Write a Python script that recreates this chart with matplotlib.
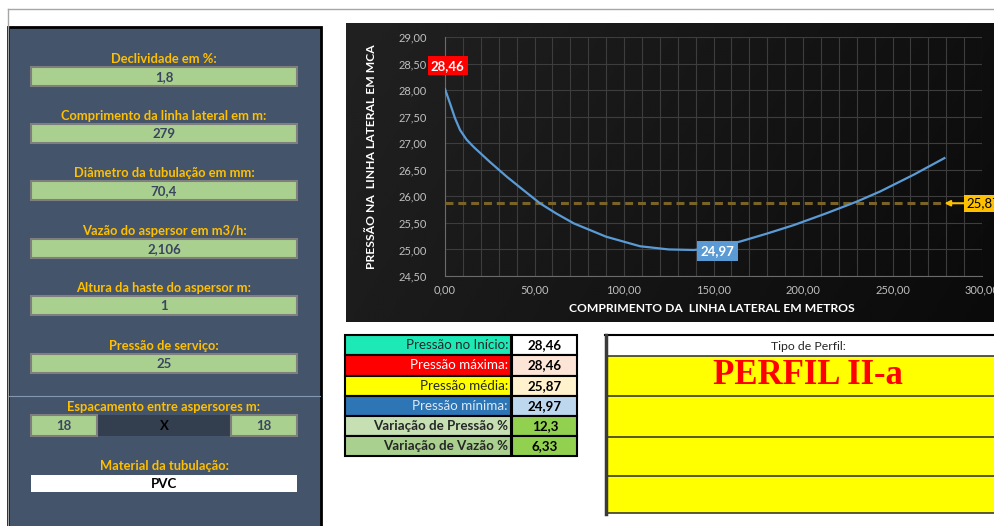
import numpy as np
import matplotlib.pyplot as plt
from matplotlib.patches import Rectangle
from matplotlib.ticker import FuncFormatter, MultipleLocator

plt.rcParams['font.family'] = ['Lato', 'DejaVu Sans']

# curva de pressao ao longo da linha lateral
comprimento = [0, 2.8, 5.6, 8.4, 12, 16, 25, 34.5, 43.7, 53, 62, 72, 90, 109, 125, 139,
               150, 165, 180, 195, 213, 230, 243, 262, 279]
pressao = [28.02, 27.75, 27.47, 27.25, 27.07, 26.93, 26.65, 26.37, 26.12, 25.87, 25.68,
           25.49, 25.24, 25.06, 25.00, 24.99, 25.03, 25.15, 25.30, 25.46, 25.68, 25.90,
           26.09, 26.41, 26.72]
p_max = 28.46
p_med = 25.87
p_min = 24.97

# dados de entrada
entrada_rotulos = ['Declividade em %:', 'Comprimento da linha lateral em m:',
                   'Diâmetro da tubulação em mm:', 'Vazão do aspersor em m3/h:',
                   'Altura da haste do aspersor m:', 'Pressão de serviço:']
entrada_valores = ['1,8', '279', '70,4', '2,106', '1', '25']
espacamento = ['18', '18']
material = 'PVC'

# resumo
resumo_rotulos = ['Pressão no Início:', 'Pressão máxima:', 'Pressão média:',
                  'Pressão mínima:', 'Variação de Pressão %', 'Variação de Vazão %']
resumo_valores = ['28,46', '28,46', '25,87', '24,97', '12,3', '6,33']
tipo_perfil = 'PERFIL II-a'


def virgula(v, nd=2):
    return f'{v:.{nd}f}'.replace('.', ',')


W, H = 995, 526
fig = plt.figure(figsize=(W / 100, H / 100), dpi=100)
bg = fig.add_axes([0, 0, 1, 1])
bg.set_xlim(0, W)
bg.set_ylim(H, 0)
bg.axis('off')


def rect(x0, y0, x1, y1, fc, ec='none', lw=0, z=1):
    bg.add_patch(Rectangle((x0, y0), x1 - x0, y1 - y0, facecolor=fc,
                           edgecolor=ec, linewidth=lw, zorder=z))


# moldura
bg.plot([8, W], [9, 9], color='#a6a6a6', lw=1)
bg.plot([8, 8], [9, H], color='#a6a6a6', lw=1)
rect(8, 27, 321, H + 3, '#44546a', 'black', 2)

# painel de entrada
lab_y = [59, 116, 173, 231, 288, 346]
for rot, val, ly in zip(entrada_rotulos, entrada_valores, lab_y):
    bg.text(164, ly, rot, ha='center', va='center', color='#ffc000',
            fontsize=9.3, fontweight='bold', zorder=3)
    rect(31, ly + 8, 297, ly + 27, '#a9d08e', '#7f7f7f', 1.5, z=2)
    bg.text(164, ly + 18, val, ha='center', va='center', color='#3b4461',
            fontsize=9.5, fontweight='bold', zorder=3)

bg.plot([9, 320], [396, 396], color='#8497b0', lw=0.8, zorder=2)
bg.text(164, 407, 'Espacamento entre aspersores m:', ha='center', va='center',
        color='#ffc000', fontsize=9.3, fontweight='bold', zorder=3)
rect(97, 415, 231, 436, '#333f4f', z=2)
rect(31, 415, 97, 436, '#a9d08e', '#7f7f7f', 1.5, z=2)
rect(231, 415, 297, 436, '#a9d08e', '#7f7f7f', 1.5, z=2)
bg.text(64, 426, espacamento[0], ha='center', va='center', color='#3b4461',
        fontsize=9.5, fontweight='bold', zorder=3)
bg.text(264, 426, espacamento[1], ha='center', va='center', color='#3b4461',
        fontsize=9.5, fontweight='bold', zorder=3)
bg.text(164, 426, 'X', ha='center', va='center', color='black',
        fontsize=9.5, fontweight='bold', zorder=3)
bg.text(164, 466, 'Material da tubulação:', ha='center', va='center',
        color='#ffc000', fontsize=9.3, fontweight='bold', zorder=3)
rect(31, 475, 297, 492, 'white', z=2)
bg.text(164, 484, material, ha='center', va='center', color='black',
        fontsize=9.5, fontweight='bold', zorder=3)

# fundo do grafico
gx = np.linspace(0, 1, 200)
gy = np.linspace(0, 1, 100)
GX, GY = np.meshgrid(gx, gy)
grad = 0.13 - 0.07 * GX - 0.02 * GY
bg.imshow(grad, cmap='gray', vmin=0, vmax=1, extent=[346, W, 322, 23],
          aspect='auto', zorder=1)

# grafico
ax = fig.add_axes([445 / W, 1 - 276 / H, 537 / W, 239 / H])
ax.set_facecolor('none')
ax.plot(comprimento, pressao, color='#5b9bd5', lw=1.6, zorder=4)
ax.plot([comprimento[0], comprimento[-1]], [p_med, p_med], color='#7a6326',
        lw=2.2, dashes=(2.6, 1.6), zorder=3)
ax.set_xlim(0, 300)
ax.set_ylim(24.5, 29)
ax.xaxis.set_major_locator(MultipleLocator(50))
ax.xaxis.set_minor_locator(MultipleLocator(10))
ax.yaxis.set_major_locator(MultipleLocator(0.5))
ax.grid(which='both', color='#3d3d3d', lw=0.8, zorder=0)
ax.set_axisbelow(True)
fmt = FuncFormatter(lambda v, p: virgula(v))
ax.xaxis.set_major_formatter(fmt)
ax.yaxis.set_major_formatter(fmt)
ax.tick_params(which='both', length=0, colors='#bfbfbf', labelsize=8)
ax.tick_params(axis='y', pad=13)
ax.tick_params(axis='x', pad=6)
for s in ['top', 'right']:
    ax.spines[s].set_visible(False)
for s in ['left', 'bottom']:
    ax.spines[s].set_color('#6b6b6b')

ax.annotate(virgula(p_max), xy=(comprimento[0], p_max), xytext=(2, 0),
            textcoords='offset points', ha='center', va='center', color='white',
            fontsize=9.5, fontweight='bold', annotation_clip=False, zorder=6,
            bbox=dict(boxstyle='square,pad=0.25', fc='#ff0000', ec='none'))
i_min = int(np.argmin(pressao))
ax.annotate(virgula(p_min), xy=(comprimento[i_min], p_min), xytext=(17, 0),
            textcoords='offset points', ha='center', va='center', color='white',
            fontsize=9.5, fontweight='bold', annotation_clip=False, zorder=6,
            bbox=dict(boxstyle='square,pad=0.3', fc='#5b9bd5', ec='none'))
ax.annotate(virgula(p_med), xy=(comprimento[-1], p_med), xytext=(16, 0),
            textcoords='offset points', ha='left', va='center', color='black',
            fontsize=9.5, annotation_clip=False, zorder=6,
            bbox=dict(boxstyle='square,pad=0.2', fc='#ffc000', ec='none'),
            arrowprops=dict(arrowstyle='-|>', color='#ffc000', lw=1.5,
                            shrinkA=0, shrinkB=0, mutation_scale=8))

fig.text(372 / W, 1 - 157 / H, 'PRESSÃO NA  LINHA LATERAL EM MCA', rotation=90,
         ha='center', va='center', color='white', fontsize=8.7, fontweight='bold')
fig.text(712 / W, 1 - 309 / H, 'COMPRIMENTO DA  LINHA LATERAL EM METROS',
         ha='center', va='center', color='white', fontsize=8.7, fontweight='bold')

# tabela resumo
cores_rot = ['#1de9b6', '#ff0000', '#ffff00', '#2e75b6', '#c6e0b4', '#a9d08e']
cores_txt = ['#262626', 'white', '#262626', '#ddebf7', '#262626', '#262626']
pesos = ['normal'] * 4 + ['bold'] * 2
cores_val = ['white', '#fce4d6', '#fff2cc', '#bdd7ee', '#92d050', '#92d050']
row_y = [335, 355, 375.5, 396, 416, 436, 456]
for k in range(6):
    y0, y1 = row_y[k], row_y[k + 1]
    rect(345, y0, 511, y1, cores_rot[k], 'black', 1.5, z=2)
    rect(512, y0, 577, y1, cores_val[k], 'black', 1.5, z=2)
    bg.text(508, (y0 + y1) / 2, resumo_rotulos[k], ha='right', va='center',
            color=cores_txt[k], fontsize=9.6, fontweight=pesos[k], zorder=3)
    bg.text(545, (y0 + y1) / 2, resumo_valores[k], ha='center', va='center',
            color='black', fontsize=9.6, fontweight='bold', zorder=3)

# tipo de perfil
rect(605, 335, 1012, 354, 'white', z=2)
bg.plot([605, W], [335, 335], color='black', lw=1.5, zorder=3)
bg.text(808, 346, 'Tipo de Perfil:', ha='center', va='center', color='#262626',
        fontsize=8.8, zorder=3)
faixas = [356, 396, 437, 476, 513]
rect(606, faixas[0], 1012, faixas[-1], '#ffff00', z=2)
for fy in faixas:
    bg.plot([606, W], [fy, fy], color='#3a3a3a', lw=1.2, zorder=3)
bg.plot([606, 606], [335, 514], color='#3a3a3a', lw=2.5, zorder=3)
bg.text(808, 376, tipo_perfil, ha='center', va='center', color='#ff0000',
        fontsize=25, fontweight='bold', family=['Liberation Serif', 'DejaVu Serif'],
        zorder=3)

fig.savefig('out.png', dpi=100)
